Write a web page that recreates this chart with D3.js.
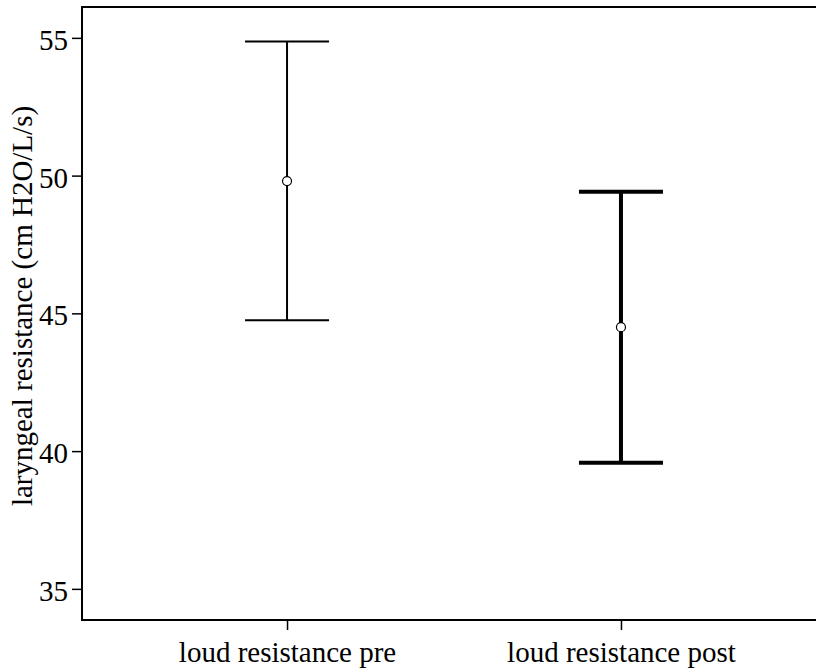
<!DOCTYPE html>
<html>
<head>
<meta charset="utf-8">
<script src="https://cdn.jsdelivr.net/npm/d3@7"></script>
<style>
  html, body { margin: 0; padding: 0; background: #fff; }
  svg { display: block; }
</style>
</head>
<body>
<svg id="chart" width="816" height="669"></svg>
<script>
// Mean laryngeal resistance with 95% CI, before and after the loud-voice task
const categories = ["loud resistance pre", "loud resistance post"];
const means = [49.80, 44.50];
const lowerCI = [44.75, 39.58];
const upperCI = [54.87, 49.41];
const barWidths = [2, 4];
const yTicks = [35, 40, 45, 50, 55];
const yTitle = "laryngeal resistance (cm H2O/L/s)";

const serif = "'Liberation Serif'";

const svg = d3.select("#chart");
const plotLeft = 82, plotTop = 7, plotRight = 826, plotBottom = 620;

const y = d3.scaleLinear().domain([33.87, 56.12]).range([plotBottom, plotTop]);
const x = d3.scalePoint().domain(categories).range([plotLeft, plotRight]).padding(0.614);

// frame (left, top, bottom edges; the right edge lies past the page)
svg.append("path")
  .attr("d", `M${plotRight},${plotTop}H${plotLeft}V${plotBottom}H${plotRight}`)
  .attr("fill", "none").attr("stroke", "#000").attr("stroke-width", 2);

// y axis
const yAxis = svg.append("g")
  .attr("transform", `translate(${plotLeft},0)`)
  .call(d3.axisLeft(y).tickValues(yTicks).tickFormat(d3.format("d")).tickSize(10).tickPadding(4));
yAxis.select(".domain").remove();
yAxis.selectAll(".tick line").attr("stroke", "#000").attr("stroke-width", 1.5);
yAxis.selectAll(".tick text")
  .attr("dy", "0.4em")
  .style("font-family", serif).style("font-size", "29px").attr("fill", "#000");

// x axis
const xAxis = svg.append("g")
  .attr("transform", `translate(0,${plotBottom})`)
  .call(d3.axisBottom(x).tickSize(10).tickPadding(11));
xAxis.select(".domain").remove();
xAxis.selectAll(".tick line").attr("stroke", "#000").attr("stroke-width", 1.5);
xAxis.selectAll(".tick text").style("font-family", serif).style("font-size", "29px").attr("fill", "#000");

// y title
svg.append("text")
  .attr("transform", `translate(32,${(103 + 509) / 2}) rotate(-90)`)
  .attr("text-anchor", "middle")
  .style("font-family", serif)
  .style("font-size", "29px")
  .attr("fill", "#000")
  .text(yTitle);

// error bars: whisker, caps, and mean marker
const capHalf = 42;
const bars = svg.append("g").selectAll("g")
  .data(categories.map((c, i) => ({ c, m: means[i], lo: lowerCI[i], hi: upperCI[i], w: barWidths[i] })))
  .join("g")
  .attr("stroke", "#000");

bars.append("line")
  .attr("x1", d => x(d.c)).attr("x2", d => x(d.c))
  .attr("y1", d => y(d.hi)).attr("y2", d => y(d.lo))
  .attr("stroke-width", d => d.w);
bars.append("line")
  .attr("x1", d => x(d.c) - capHalf).attr("x2", d => x(d.c) + capHalf)
  .attr("y1", d => y(d.hi)).attr("y2", d => y(d.hi))
  .attr("stroke-width", d => d.w);
bars.append("line")
  .attr("x1", d => x(d.c) - capHalf).attr("x2", d => x(d.c) + capHalf)
  .attr("y1", d => y(d.lo)).attr("y2", d => y(d.lo))
  .attr("stroke-width", d => d.w);
bars.append("circle")
  .attr("cx", d => x(d.c)).attr("cy", d => y(d.m))
  .attr("r", 4.5)
  .attr("fill", "#fff")
  .attr("stroke-width", 1.2);
</script>
</body>
</html>
